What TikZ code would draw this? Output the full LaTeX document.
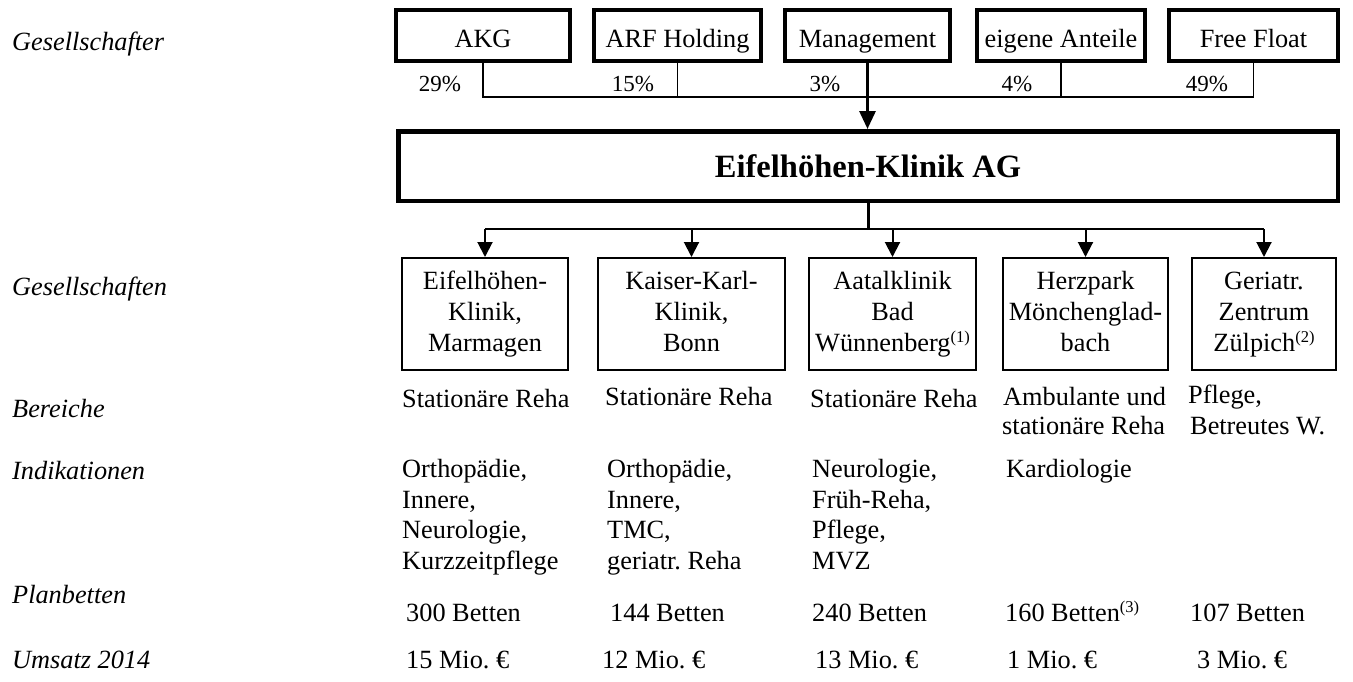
\documentclass[tikz,border=0pt]{standalone}
\usepackage{fontspec}
\setmainfont{Liberation Serif}
\usetikzlibrary{arrows.meta}
\frenchspacing
\newcommand\fnmark[1]{\raisebox{9pt}{\fontsize{16.5}{16.5}\selectfont #1}}
\begin{document}
\begin{tikzpicture}[x=1pt,y=-1pt,
  every node/.style={inner sep=0pt, font=\fontsize{26.3}{31}\selectfont},
  topbox/.style={draw, line width=4pt, minimum height=51pt, text height=23pt, text depth=0pt},
  mainbox/.style={draw, line width=4.5pt, minimum width=939.5pt, minimum height=69.5pt,
    font=\fontsize{32.5}{32.5}\selectfont\bfseries},
  subbox/.style={draw, line width=2pt, minimum height=112pt, align=center},
  pct/.style={anchor=base, font=\fontsize{23}{23}\selectfont},
  lab/.style={anchor=base west, font=\fontsize{26.3}{31}\selectfont\itshape},
  dat/.style={anchor=base west},
  conn/.style={line width=1.5pt},
  bus/.style={line width=2pt},
  arr/.style={line width=2pt, -{Triangle[width=15pt,length=15pt]}},
  bigarr/.style={line width=3pt, -{Triangle[width=16pt,length=18pt]}}]
\useasboundingbox (0,0) rectangle (1353,681);

% left labels
\node[lab] (l1) at (12,50) {Gesellschafter};
\node[lab] (l2) at (12,295) {Gesellschaften};
\node[lab] (l3) at (12,417) {Bereiche};
\node[lab] (l4) at (12,479) {Indikationen};
\node[lab] (l5) at (12,603) {Planbetten};
\node[lab] (l6) at (12,668) {Umsatz 2014};

% shareholders
\node[topbox, minimum width=174pt] (akg) at (483,35.5) {AKG};
\node[topbox, minimum width=167pt] (arf) at (677.5,35.5) {ARF Holding};
\node[topbox, minimum width=165pt] (mgmt) at (867.5,35.5) {Management};
\node[topbox, minimum width=168pt] (ea) at (1061,35.5) {eigene Anteile};
\node[topbox, minimum width=169pt] (ff) at (1253.5,35.5) {Free Float};

\node[pct] (p1) at (440,91) {29\%};
\node[pct] (p2) at (633,91) {15\%};
\node[pct] (p3) at (825,91) {3\%};
\node[pct] (p4) at (1017,91) {4\%};
\node[pct] (p5) at (1207,91) {49\%};

% main company
\node[mainbox] (main) at (868,166) {Eifelhöhen-Klinik AG};

\coordinate (tb) at (0,97);
\draw[conn] (akg.south) -- (akg.south|-tb) -- (ff.south|-tb) -- (ff.south);
\draw[conn] (arf.south) -- (arf.south|-tb);
\draw[conn] (ea.south) -- (ea.south|-tb);
\draw[bigarr] (mgmt.south) -- (mgmt.south|-main.north);

% subsidiaries
\node[subbox, minimum width=166pt] (g1) at (485,314) {\strut Eifelhöhen-\\Klinik,\\Marmagen\strut};
\node[subbox, minimum width=187pt] (g2) at (691.5,314) {\strut Kaiser-Karl-\\Klinik,\\Bonn\strut};
\node[subbox, minimum width=167pt] (g3) at (892.5,314) {\strut Aatalklinik\\Bad\\Wünnenberg\fnmark{(1)}\strut};
\node[subbox, minimum width=165pt] (g4) at (1085.5,314) {\strut Herzpark\\Mönchenglad-\\bach\strut};
\node[subbox, minimum width=144pt] (g5) at (1264,314) {\strut Geriatr.\\Zentrum\\Zülpich\fnmark{(2)}\strut};

\coordinate (bb) at (0,229);
\draw[line width=3pt] (main.south) -- (main.south|-bb);
\draw[bus] (g1.north|-bb) -- (g5.north|-bb);
\foreach \n in {g1,g2,g3,g4,g5}
  \draw[arr] (\n.north|-bb) -- (\n.north);

% Bereiche
\node[dat] (b1) at (402,407) {Stationäre Reha};
\node[dat] (b2) at (605,405) {Stationäre Reha};
\node[dat] (b3) at (810,407) {Stationäre Reha};
\node[dat] (b4a) at (1003,405) {Ambulante und};
\node[dat] (b4b) at (1002,434) {stationäre Reha};
\node[dat] (b5a) at (1188,403) {Pflege,};
\node[dat] (b5b) at (1190,434) {Betreutes W.};

% Indikationen
\node[dat] (i11) at (402,477) {Orthopädie,};
\node[dat] (i12) at (402,508) {Innere,};
\node[dat] (i13) at (402,538) {Neurologie,};
\node[dat] (i14) at (402,569) {Kurzzeitpflege};
\node[dat] (i21) at (607,477) {Orthopädie,};
\node[dat] (i22) at (607,508) {Innere,};
\node[dat] (i23) at (607,538) {TMC,};
\node[dat] (i24) at (607,569) {geriatr. Reha};
\node[dat] (i31) at (812,477) {Neurologie,};
\node[dat] (i32) at (812,508) {Früh-Reha,};
\node[dat] (i33) at (812,538) {Pflege,};
\node[dat] (i34) at (812,569) {MVZ};
\node[dat] (i41) at (1006,477) {Kardiologie};

% Planbetten
\node[dat] (pb1) at (406,621) {300 Betten};
\node[dat] (pb2) at (610,621) {144 Betten};
\node[dat] (pb3) at (812,621) {240 Betten};
\node[dat] (pb4) at (1005,621) {160 Betten\fnmark{(3)}};
\node[dat] (pb5) at (1190,621) {107 Betten};

% Umsatz
\node[dat] (u1) at (406,668) {15 Mio. €};
\node[dat] (u2) at (602,668) {12 Mio. €};
\node[dat] (u3) at (815,668) {13 Mio. €};
\node[dat] (u4) at (1007,668) {1 Mio. €};
\node[dat] (u5) at (1197,668) {3 Mio. €};
\end{tikzpicture}
\end{document}
